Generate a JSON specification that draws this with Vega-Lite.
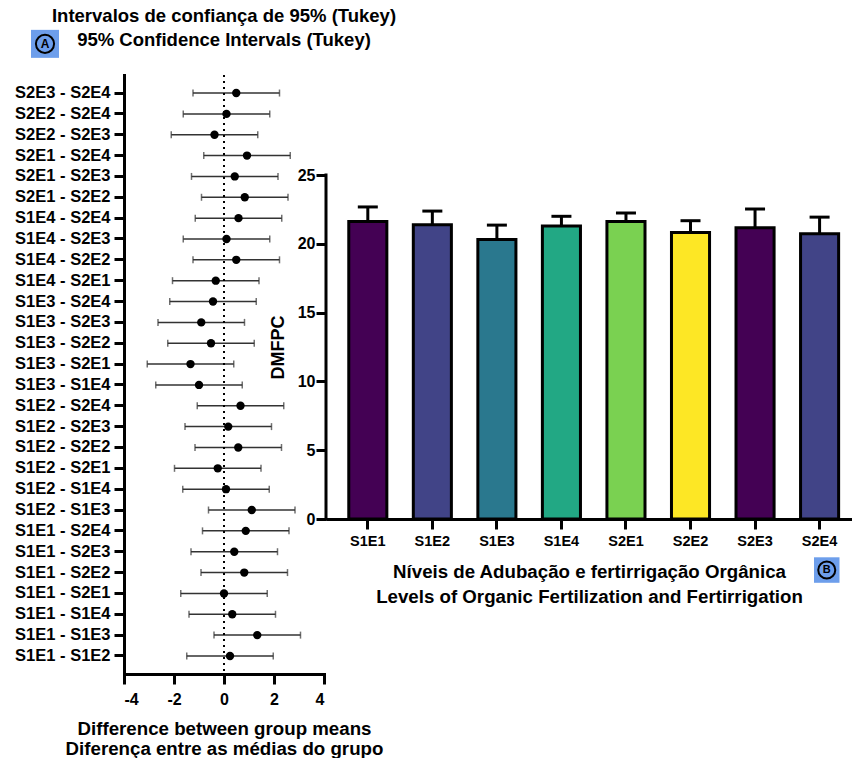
{
  "$schema": "https://vega.github.io/schema/vega-lite/v6.json",
  "padding": {"left": 14, "top": 7, "right": 0, "bottom": 0},
  "bounds": "flush",
  "spacing": 2,
  "config": {
    "font": "Liberation Sans",
    "view": {"stroke": null},
    "axis": {
      "labelFont": "Liberation Sans", "titleFont": "Liberation Sans",
      "labelColor": "black", "titleColor": "black",
      "domainColor": "black", "tickColor": "black",
      "labelFontWeight": "bold", "titleFontWeight": "bold",
      "domainWidth": 3, "tickWidth": 3, "tickSize": 10, "grid": false,
      "domainCap": "square"
    },
    "title": {"font": "Liberation Sans", "color": "black"}
  },
  "hconcat": [
    {
      "title": {"text": ["Intervalos de confiança de 95% (Tukey)", "95% Confidence Intervals (Tukey)"], "fontSize": 18.5, "fontWeight": "bold", "anchor": "middle", "lineHeight": 24, "offset": 0, "dy": 20},
      "width": 200,
      "height": 599,
      "layer": [
        {
          "data": {"values": [
            {"comp": "S2E3 - S2E4", "diff": 0.49, "lower": -1.24, "upper": 2.22},
            {"comp": "S2E2 - S2E4", "diff": 0.10, "lower": -1.63, "upper": 1.83},
            {"comp": "S2E2 - S2E3", "diff": -0.38, "lower": -2.11, "upper": 1.35},
            {"comp": "S2E1 - S2E4", "diff": 0.92, "lower": -0.81, "upper": 2.65},
            {"comp": "S2E1 - S2E3", "diff": 0.43, "lower": -1.30, "upper": 2.16},
            {"comp": "S2E1 - S2E2", "diff": 0.83, "lower": -0.90, "upper": 2.56},
            {"comp": "S1E4 - S2E4", "diff": 0.58, "lower": -1.15, "upper": 2.31},
            {"comp": "S1E4 - S2E3", "diff": 0.10, "lower": -1.63, "upper": 1.83},
            {"comp": "S1E4 - S2E2", "diff": 0.49, "lower": -1.24, "upper": 2.22},
            {"comp": "S1E4 - S2E1", "diff": -0.33, "lower": -2.06, "upper": 1.40},
            {"comp": "S1E3 - S2E4", "diff": -0.44, "lower": -2.17, "upper": 1.29},
            {"comp": "S1E3 - S2E3", "diff": -0.91, "lower": -2.64, "upper": 0.82},
            {"comp": "S1E3 - S2E2", "diff": -0.52, "lower": -2.25, "upper": 1.21},
            {"comp": "S1E3 - S2E1", "diff": -1.34, "lower": -3.07, "upper": 0.39},
            {"comp": "S1E3 - S1E4", "diff": -1.00, "lower": -2.73, "upper": 0.73},
            {"comp": "S1E2 - S2E4", "diff": 0.66, "lower": -1.07, "upper": 2.39},
            {"comp": "S1E2 - S2E3", "diff": 0.17, "lower": -1.56, "upper": 1.90},
            {"comp": "S1E2 - S2E2", "diff": 0.57, "lower": -1.16, "upper": 2.30},
            {"comp": "S1E2 - S2E1", "diff": -0.25, "lower": -1.98, "upper": 1.48},
            {"comp": "S1E2 - S1E4", "diff": 0.08, "lower": -1.65, "upper": 1.81},
            {"comp": "S1E2 - S1E3", "diff": 1.11, "lower": -0.62, "upper": 2.84},
            {"comp": "S1E1 - S2E4", "diff": 0.87, "lower": -0.86, "upper": 2.60},
            {"comp": "S1E1 - S2E3", "diff": 0.41, "lower": -1.32, "upper": 2.14},
            {"comp": "S1E1 - S2E2", "diff": 0.81, "lower": -0.92, "upper": 2.54},
            {"comp": "S1E1 - S2E1", "diff": 0.00, "lower": -1.73, "upper": 1.73},
            {"comp": "S1E1 - S1E4", "diff": 0.33, "lower": -1.40, "upper": 2.06},
            {"comp": "S1E1 - S1E3", "diff": 1.33, "lower": -0.40, "upper": 3.06},
            {"comp": "S1E1 - S1E2", "diff": 0.24, "lower": -1.49, "upper": 1.97}
          ]},
          "layer": [
            {
              "mark": {"type": "rule", "color": "#333333", "strokeWidth": 1.5},
              "encoding": {
                "y": {"field": "comp", "type": "nominal", "sort": null,
                      "scale": {"padding": 0.73},
                      "axis": {"title": null, "labelFontSize": 16.5, "labelPadding": 4, "labelLimit": 200}},
                "x": {"field": "lower", "type": "quantitative",
                      "scale": {"domain": [-4, 4], "nice": false, "zero": false},
                      "axis": {"values": [-4, -2, 0, 2, 4], "labelFontSize": 16, "labelPadding": 7,
                               "labelExpr": "'' + datum.value",
                               "title": ["Difference between group means", "Diferença entre as médias do grupo"],
                               "titleFontSize": 18.7, "titlePadding": 12, "titleLineHeight": 20}},
                "x2": {"field": "upper"}
              }
            },
            {
              "mark": {"type": "tick", "color": "#333333", "thickness": 1.5, "size": 7},
              "encoding": {
                "y": {"field": "comp", "type": "nominal", "sort": null},
                "x": {"field": "lower", "type": "quantitative"}
              }
            },
            {
              "mark": {"type": "tick", "color": "#333333", "thickness": 1.5, "size": 7},
              "encoding": {
                "y": {"field": "comp", "type": "nominal", "sort": null},
                "x": {"field": "upper", "type": "quantitative"}
              }
            },
            {
              "mark": {"type": "rule", "color": "black", "strokeWidth": 2, "strokeDash": [2, 4]},
              "encoding": {"x": {"datum": 0, "type": "quantitative"}}
            },
            {
              "mark": {"type": "point", "filled": true, "color": "black", "size": 70, "opacity": 1},
              "encoding": {
                "y": {"field": "comp", "type": "nominal", "sort": null},
                "x": {"field": "diff", "type": "quantitative"}
              }
            }
          ]
        },
        {
          "data": {"values": [{"badge": "A"}]},
          "encoding": {
            "x": {"datum": -0.395, "type": "quantitative", "scale": {"domain": [0, 1]}, "axis": null},
            "y": {"datum": 1.052, "type": "quantitative", "scale": {"domain": [0, 1]}, "axis": null}
          },
          "layer": [
            {"mark": {"type": "point", "shape": "square", "filled": true, "color": "#6d9eeb", "size": 784, "opacity": 1}},
            {"mark": {"type": "point", "shape": "circle", "filled": false, "stroke": "black", "strokeWidth": 2, "size": 330, "opacity": 1}},
            {"mark": {"type": "text", "fontSize": 12, "fontWeight": "bold", "color": "black", "baseline": "middle", "align": "center"}, "encoding": {"text": {"field": "badge"}}}
          ]
        }
      ],
      "resolve": {"scale": {"x": "independent", "y": "independent"}}
    },
    {
      "width": 526,
      "height": 444,
      "layer": [
        {
          "data": {"values": [
            {"trt": "S1E1", "mean": 21.63, "upper": 22.68},
            {"trt": "S1E2", "mean": 21.38, "upper": 22.38},
            {"trt": "S1E3", "mean": 20.32, "upper": 21.36},
            {"trt": "S1E4", "mean": 21.29, "upper": 22.00},
            {"trt": "S2E1", "mean": 21.63, "upper": 22.24},
            {"trt": "S2E2", "mean": 20.83, "upper": 21.68},
            {"trt": "S2E3", "mean": 21.17, "upper": 22.53},
            {"trt": "S2E4", "mean": 20.74, "upper": 21.94}
          ]},
          "layer": [
            {
              "mark": {"type": "bar", "stroke": "black", "strokeWidth": 3},
              "encoding": {
                "x": {"field": "trt", "type": "nominal", "sort": null,
                      "scale": {"paddingInner": 0.41, "paddingOuter": 0.28, "align": 0.63},
                      "axis": {"labelAngle": 0, "labelFontSize": 14.5, "labelPadding": 5, "domainCap": "butt",
                               "title": ["Níveis de Adubação e fertirrigação Orgânica", "Levels of Organic Fertilization and Fertirrigation"],
                               "titleFontSize": 18.7, "titlePadding": 15, "titleLineHeight": 25}},
                "y": {"field": "mean", "type": "quantitative",
                      "scale": {"domain": [0, 32.27], "nice": false},
                      "axis": {"values": [0, 5, 10, 15, 20, 25], "labelFontSize": 16, "labelPadding": 1, "domain": false,
                               "title": "DMFPC", "titleFontSize": 18, "titlePadding": 10, "titleY": 272}},
                "color": {"field": "trt", "type": "nominal", "legend": null,
                          "scale": {"domain": ["S1E1", "S1E2", "S1E3", "S1E4", "S2E1", "S2E2", "S2E3", "S2E4"],
                                    "range": ["#440154", "#414487", "#2a788e", "#22a884", "#7ad151", "#fde725", "#440154", "#414487"]}}
              }
            },
            {
              "mark": {"type": "rule", "color": "black", "strokeWidth": 3},
              "encoding": {
                "x": {"field": "trt", "type": "nominal", "sort": null},
                "y": {"field": "mean", "type": "quantitative"},
                "y2": {"field": "upper"}
              }
            },
            {
              "mark": {"type": "tick", "color": "black", "thickness": 3, "size": 20, "opacity": 1},
              "encoding": {
                "x": {"field": "trt", "type": "nominal", "sort": null},
                "y": {"field": "upper", "type": "quantitative"}
              }
            }
          ]
        },
        {
          "data": {"values": [{"badge": "B", "axis_start": 0, "axis_end": 25}]},
          "layer": [
            {
              "mark": {"type": "rule", "color": "black", "strokeWidth": 3, "strokeCap": "square"},
              "encoding": {
                "x": {"datum": 0, "type": "quantitative", "scale": {"domain": [0, 1]}, "axis": null},
                "y": {"field": "axis_start", "type": "quantitative", "scale": {"domain": [0, 32.27], "nice": false}, "axis": null},
                "y2": {"field": "axis_end"}
              }
            },
            {
              "encoding": {
                "x": {"datum": 0.952, "type": "quantitative"},
                "y": {"datum": -3.71, "type": "quantitative"}
              },
              "layer": [
                {"mark": {"type": "point", "shape": "square", "filled": true, "color": "#6d9eeb", "size": 650, "opacity": 1}},
                {"mark": {"type": "point", "shape": "circle", "filled": false, "stroke": "black", "strokeWidth": 2, "size": 290, "opacity": 1}},
                {"mark": {"type": "text", "fontSize": 11, "fontWeight": "bold", "color": "black", "baseline": "middle", "align": "center"}, "encoding": {"text": {"field": "badge"}}}
              ]
            }
          ]
        }
      ],
      "resolve": {"scale": {"x": "independent", "y": "independent"}}
    }
  ]
}
